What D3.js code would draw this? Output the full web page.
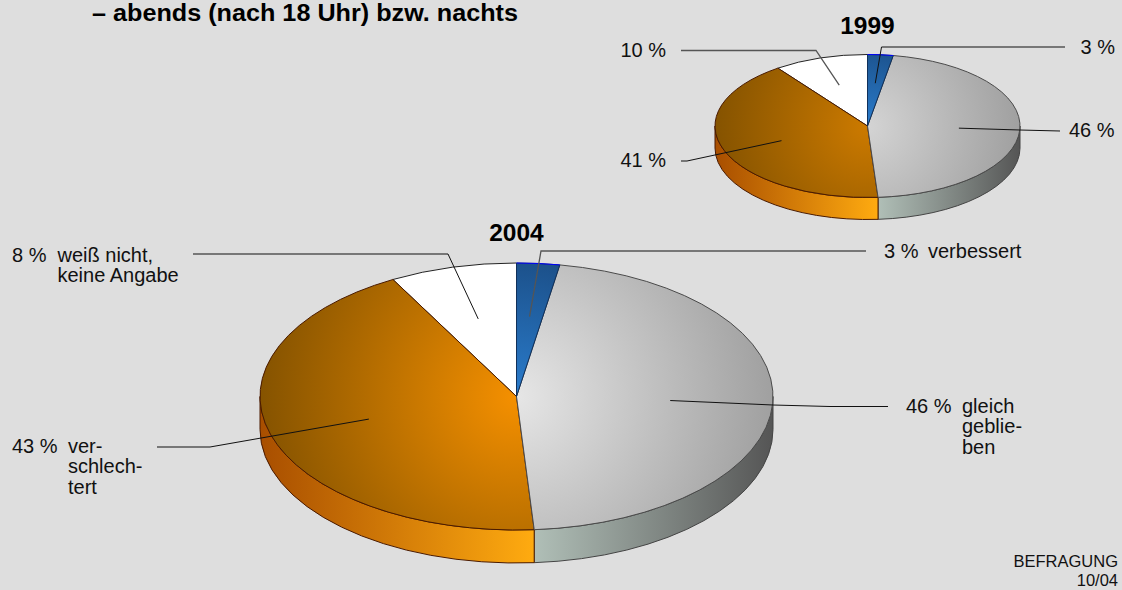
<!DOCTYPE html>
<html>
<head>
<meta charset="utf-8">
<script src="https://cdn.jsdelivr.net/npm/d3@7"></script>
<style>
  html, body { margin: 0; padding: 0; background: #dedede; overflow: hidden; }
  text { font-family: "Liberation Sans", Arial, sans-serif; fill: #111; }
</style>
</head>
<body>
<div id="chart"></div>
<script>
// slice sizes in percent as measured on the picture, clockwise from 12 o'clock
const categories = ["verbessert", "gleich geblieben", "verschlechtert", "weiß nicht, keine Angabe"];
const values1999 = [2.7, 46.2, 41.1, 10];
const values2004 = [2.7, 46.2, 43.1, 8];
const categoryLines = [["verbessert"], ["gleich", "geblie-", "ben"], ["ver-", "schlech-", "tert"], ["weiß nicht,", "keine Angabe"]];
const heading = "– abends (nach 18 Uhr) bzw. nachts";
const footer = ["BEFRAGUNG", "10/04"];

const width = 1122, height = 590;

var svg = d3.select("#chart")
    .append("svg")
    .attr("width", width)
    .attr("height", height)
    .style("display", "block");

var defs = svg.append("defs");

svg.append("rect").attr("width", width).attr("height", height).attr("fill", "#dedede");

svg.append("text")
    .attr("x", 92).attr("y", 21)
    .attr("font-size", "23px").attr("font-weight", "bold")
    .attr("textLength", 426)
    .attr("lengthAdjust", "spacingAndGlyphs")
    .style("fill", "#000")
    .text(heading);

svg.selectAll(".footer")
    .data(footer)
    .enter()
    .append("text")
    .attr("class", "footer")
    .attr("x", 1118)
    .attr("y", function (d, i) { return 567 + i * 19; })
    .attr("text-anchor", "end")
    .attr("font-size", "16.5px")
    .text(function (d) { return d; });

function radial(id, cx, cy, r, inner, outer) {
    var g = defs.append("radialGradient")
        .attr("id", id)
        .attr("gradientUnits", "userSpaceOnUse")
        .attr("cx", cx).attr("cy", cy).attr("r", r);
    g.append("stop").attr("offset", "0%").attr("stop-color", inner);
    g.append("stop").attr("offset", "100%").attr("stop-color", outer);
}

function linear(id, left, right) {
    var g = defs.append("linearGradient").attr("id", id);
    g.append("stop").attr("offset", "0%").attr("stop-color", left);
    g.append("stop").attr("offset", "100%").attr("stop-color", right);
}

function drawPie(values, year, p) {
    var group = svg.append("g");
    var arcs = d3.pie().sort(null).value(function (d) { return d; })(values);

    function pt(t, dy) {
        return [p.cx + p.rx * Math.sin(t), p.cy - p.ry * Math.cos(t) + (dy || 0)];
    }

    function slicePath(d) {
        var a = pt(d.startAngle), b = pt(d.endAngle);
        var large = d.endAngle - d.startAngle > Math.PI ? 1 : 0;
        return "M" + p.cx + "," + p.cy + "L" + a + "A" + p.rx + "," + p.ry + " 0 " + large + " 1 " + b + "Z";
    }

    // wall below the front half of the ellipse
    function sidePath(d) {
        var t0 = Math.max(d.startAngle, Math.PI / 2), t1 = Math.min(d.endAngle, Math.PI * 1.5);
        var a = pt(t0), b = pt(t1), c = pt(t1, p.depth), e = pt(t0, p.depth);
        var r = p.rx + "," + p.ry + " 0 0 ";
        return "M" + a + "A" + r + "1 " + b + "L" + c + "A" + r + "0 " + e + "Z";
    }

    var key = "y" + year;
    radial(key + "top0", p.cx, p.cy, p.rx, "#2a7ccc", "#0f2a50");
    radial(key + "top1", p.cx, p.cy, p.rx, p.grayInner, "#a0a0a0");
    radial(key + "top2", p.cx, p.cy, p.rx, p.orangeInner, "#855300");
    linear(key + "side1", "#b0bfb7", "#555555");
    linear(key + "side2", "#a84e00", "#ffab10");

    var strokes = ["#10305a", "#4a4a4a", "#4a1a00", "#222222"];
    var sideStrokes = { 1: "#444444", 2: "#4a1a00" };

    group.selectAll(".side")
        .data(arcs.filter(function (d) { return d.endAngle > Math.PI / 2 && d.startAngle < Math.PI * 1.5; }))
        .enter()
        .append("path")
        .attr("class", "side")
        .attr("d", sidePath)
        .attr("fill", function (d) { return "url(#" + key + "side" + d.index + ")"; })
        .attr("stroke", function (d) { return sideStrokes[d.index]; })
        .attr("stroke-width", 1);

    // white slice first, so the darker neighbours' edges stay on top
    group.selectAll(".slice")
        .data(arcs.slice().reverse())
        .enter()
        .append("path")
        .attr("class", "slice")
        .attr("d", slicePath)
        .attr("fill", function (d) { return d.index == 3 ? "#ffffff" : "url(#" + key + "top" + d.index + ")"; })
        .attr("stroke", function (d) { return strokes[d.index]; })
        .attr("stroke-width", 1)
        .attr("stroke-linejoin", "round")
        .append("title")
        .text(function (d) { return categories[d.index]; });

    // bright rim on the blue slice
    var blue = arcs[0], ba = pt(blue.startAngle), bb = pt(blue.endAngle);
    group.append("path")
        .attr("d", "M" + ba + "A" + p.rx + "," + p.ry + " 0 0 1 " + bb)
        .attr("fill", "none")
        .attr("stroke", "#0000ff")
        .attr("stroke-width", 1);

    // leader lines start at 60 % of the radius on each slice's middle
    var line = d3.line();
    group.selectAll(".leader")
        .data(arcs)
        .enter()
        .append("path")
        .attr("class", "leader")
        .attr("fill", "none")
        .attr("stroke", function (d) { return d.index == p.softLeader ? "#555" : "#111"; })
        .attr("stroke-width", function (d) { return d.index == p.softLeader ? 1.3 : 1; })
        .attr("d", function (d) {
            var mid = (d.startAngle + d.endAngle) / 2;
            var start = [p.cx + 0.6 * p.rx * Math.sin(mid), p.cy - 0.6 * p.ry * Math.cos(mid)];
            return line([start].concat(p.leaders[d.index]));
        });

    group.append("text")
        .attr("x", p.cx).attr("y", p.titleY)
        .attr("text-anchor", "middle")
        .attr("font-size", "24.5px").attr("font-weight", "bold")
        .style("fill", "#000")
        .text(year);

    arcs.forEach(function (d) {
        var pos = p.labels[d.index];
        group.append("text")
            .attr("x", pos[0]).attr("y", pos[1])
            .attr("font-size", "20px")
            .text(Math.round(d.value) + " %");
        if (p.showCategories) {
            categoryLines[d.index].forEach(function (t, i) {
                group.append("text")
                    .attr("x", pos[2]).attr("y", pos[1] + i * 20.4)
                    .attr("font-size", "20px")
                    .text(t);
            });
        }
    });
}

drawPie(values2004, 2004, {
    cx: 516.5, cy: 396.5, rx: 256.5, ry: 133.5, depth: 33, titleY: 240.5,
    grayInner: "#e6e6e6", orangeInner: "#f59000", showCategories: true, softLeader: 0,
    leaders: [
        [[541, 251], [866, 251]],
        [[773, 405], [830, 406.5], [888, 406.5]],
        [[210, 447], [157, 447]],
        [[448, 254], [193, 254]]
    ],
    labels: [[884, 258, 928], [906, 413, 962], [12, 453, 68], [12, 262, 57.5]]
});

drawPie(values1999, 1999, {
    cx: 867.5, cy: 126, rx: 152.5, ry: 71.5, depth: 22, titleY: 33.5,
    grayInner: "#d4d4d4", orangeInner: "#cc7a00", showCategories: false, softLeader: 3,
    leaders: [
        [[881.5, 47], [1065, 47]],
        [[1020, 130], [1060, 131]],
        [[687, 161], [681, 161]],
        [[816, 50.5], [681, 50.5]]
    ],
    labels: [[1080.5, 54], [1069, 137], [620.5, 167], [620.5, 57]]
});
</script>
</body>
</html>
